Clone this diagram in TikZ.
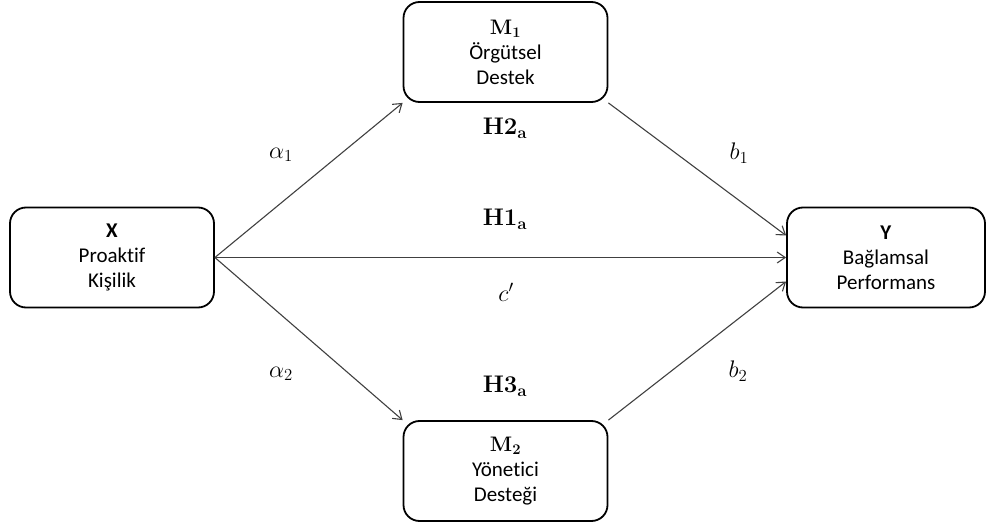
\documentclass[tikz,border=0pt]{standalone}
\usepackage{fix-cm}
\usepackage[no-math]{fontspec}
\setmainfont{Carlito}[Ligatures=NoCommon]
\usetikzlibrary{arrows.meta}
\begin{document}
\begin{tikzpicture}[x=1pt,y=-1pt,
  varbox/.style={draw=black, line width=1.8pt, rounded corners=16pt, fill=white,
    minimum width=204pt, minimum height=100pt, inner sep=0pt, align=center,
    font=\fontsize{21}{25}\selectfont},
  path/.style={draw=black!75, line width=1.1pt, -{Straight Barb[length=8pt,width=11pt,line width=1.1pt]}},
  lbl/.style={inner sep=0pt, font=\fontsize{24}{28}\selectfont}
]
\useasboundingbox (0,0) rectangle (987,529);
\node[varbox] (X)  at (112,257.5) {\textbf{X}\\Proaktif\\Kişilik};
\node[varbox] (M1) at (505.5,52) {$\mathbf{M_1}$\\Örgütsel\\Destek};
\node[varbox] (M2) at (505.5,471) {$\mathbf{M_2}$\\Yönetici\\Desteği};
\node[varbox, minimum width=198pt] (Y) at (886,257.5) {\textbf{Y}\\Bağlamsal\\Performans};

\draw[path] (X.east) -- (M1.south west);
\draw[path] (X.east) -- (Y.west);
\draw[path] (X.east) -- (M2.north west);
\draw[path] (M1.south east) -- ([yshift=22pt]Y.west);
\draw[path] (M2.north east) -- ([yshift=-24pt]Y.west);

\node[lbl] (a1) at (281,155) {$\alpha_1$};
\node[lbl] (a2) at (281,374) {$\alpha_2$};
\node[lbl] (b1) at (739,153) {$b_1$};
\node[lbl] (b2) at (738,371) {$b_2$};
\node[lbl] (h2) at (505,128) {$\mathbf{H2_a}$};
\node[lbl] (h1) at (505,219) {$\mathbf{H1_a}$};
\node[lbl] (cp) at (506,292) {$c'$};
\node[lbl] (h3) at (505,386) {$\mathbf{H3_a}$};
\end{tikzpicture}
\end{document}
